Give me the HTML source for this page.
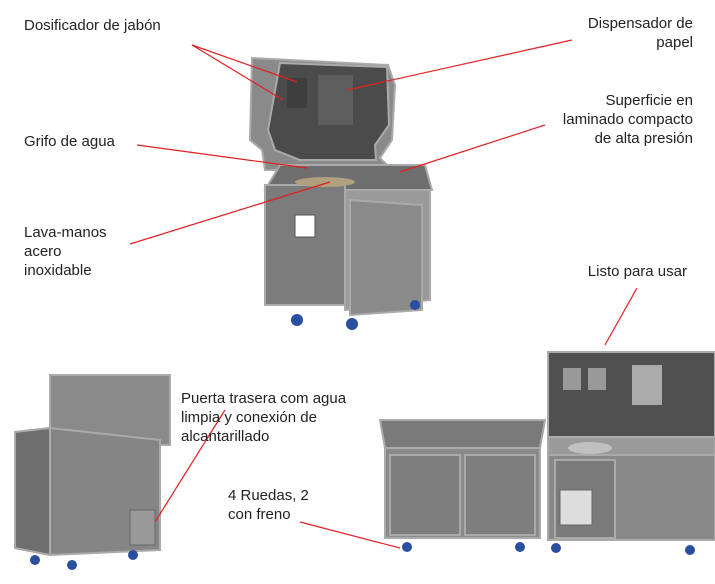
<!DOCTYPE html>
<html><head><meta charset="utf-8"><style>
body{margin:0;background:#fff}
svg{display:block}
text{font-family:"Liberation Sans",sans-serif;font-size:15px;fill:#222}
</style></head><body>
<svg width="715" height="584" viewBox="0 0 715 584" xmlns="http://www.w3.org/2000/svg">
<!-- main case -->
<g stroke="#aaa" stroke-width="2">
<polygon points="252,58 388,65 395,85 392,140 380,158 392,170 265,170 262,150 250,140" fill="#8a8a8a"/>
<polygon points="280,63 387,67 389,125 375,145 376,160 300,160 275,150 268,130" fill="#4b4b4b"/>
<polygon points="280,165 425,165 432,190 265,190" fill="#6e6e6e"/>
<rect x="265" y="185" width="80" height="120" fill="#7c7c7c"/>
<polygon points="345,190 430,190 430,300 345,310" fill="#9a9a9a"/>
<polygon points="350,200 422,205 422,310 350,315" fill="#8a8a8a"/>
</g>
<rect x="318" y="75" width="35" height="50" fill="#5e5e5e"/>
<rect x="287" y="78" width="20" height="30" fill="#3e3e3e"/>
<rect x="295" y="215" width="20" height="22" fill="#fff" stroke="#555"/>
<ellipse cx="325" cy="182" rx="30" ry="5" fill="#b0a080"/>
<circle cx="297" cy="320" r="6" fill="#2a4ea0"/><circle cx="352" cy="324" r="6" fill="#2a4ea0"/><circle cx="415" cy="305" r="5" fill="#2a4ea0"/>
<!-- bottom left case -->
<g stroke="#aaa" stroke-width="2">
<rect x="50" y="375" width="120" height="70" fill="#8a8a8a"/>
<polygon points="15,432 50,428 160,440 160,550 50,555 15,548" fill="#858585"/>
<polygon points="15,432 50,428 50,555 15,548" fill="#6e6e6e"/>
</g>
<rect x="130" y="510" width="25" height="35" fill="#999" stroke="#666"/>
<circle cx="35" cy="560" r="5" fill="#2a4ea0"/><circle cx="72" cy="565" r="5" fill="#2a4ea0"/><circle cx="133" cy="555" r="5" fill="#2a4ea0"/>
<!-- bottom middle -->
<g stroke="#aaa" stroke-width="2">
<polygon points="380,420 545,420 540,448 385,448" fill="#7a7a7a"/>
<rect x="385" y="448" width="155" height="90" fill="#8a8a8a"/>
<rect x="390" y="455" width="70" height="80" fill="#7e7e7e"/>
<rect x="465" y="455" width="70" height="80" fill="#7e7e7e"/>
</g>
<circle cx="407" cy="547" r="5" fill="#2a4ea0"/><circle cx="520" cy="547" r="5" fill="#2a4ea0"/>
<!-- bottom right -->
<g stroke="#aaa" stroke-width="2">
<rect x="548" y="352" width="167" height="85" fill="#505050"/>
<rect x="548" y="437" width="167" height="18" fill="#9a9a9a"/>
<rect x="548" y="455" width="167" height="85" fill="#888"/>
<rect x="555" y="460" width="60" height="78" fill="#7a7a7a"/>
</g>
<rect x="563" y="368" width="18" height="22" fill="#999"/><rect x="588" y="368" width="18" height="22" fill="#999"/>
<rect x="632" y="365" width="30" height="40" fill="#aaa"/>
<ellipse cx="590" cy="448" rx="22" ry="6" fill="#c0c0c0"/>
<rect x="560" y="490" width="32" height="35" fill="#ddd" stroke="#666"/>
<circle cx="556" cy="548" r="5" fill="#2a4ea0"/><circle cx="690" cy="550" r="5" fill="#2a4ea0"/>
<!-- lines -->
<g stroke="#e02020" stroke-width="1.2">
<line x1="192" y1="45" x2="283" y2="100"/>
<line x1="192" y1="45" x2="297" y2="82"/>
<line x1="572" y1="40" x2="347" y2="90"/>
<line x1="545" y1="125" x2="400" y2="172"/>
<line x1="137" y1="145" x2="307" y2="168"/>
<line x1="130" y1="244" x2="330" y2="182"/>
<line x1="637" y1="288" x2="605" y2="345"/>
<line x1="225" y1="410" x2="155" y2="522"/>
<line x1="300" y1="522" x2="400" y2="548"/>
</g>
<!-- labels -->
<text x="24" y="30">Dosificador de jabón</text>
<text x="693" y="28" text-anchor="end">Dispensador de</text>
<text x="693" y="47" text-anchor="end">papel</text>
<text x="693" y="105" text-anchor="end">Superficie en</text>
<text x="693" y="124" text-anchor="end">laminado compacto</text>
<text x="693" y="143" text-anchor="end">de alta presión</text>
<text x="24" y="146">Grifo de agua</text>
<text x="24" y="237">Lava-manos</text>
<text x="24" y="256">acero</text>
<text x="24" y="275">inoxidable</text>
<text x="687" y="276" text-anchor="end">Listo para usar</text>
<text x="181" y="403">Puerta trasera com agua</text>
<text x="181" y="422">limpia y conexión de</text>
<text x="181" y="441">alcantarillado</text>
<text x="228" y="500">4 Ruedas, 2</text>
<text x="228" y="519">con freno</text>
</svg>
</body></html>
